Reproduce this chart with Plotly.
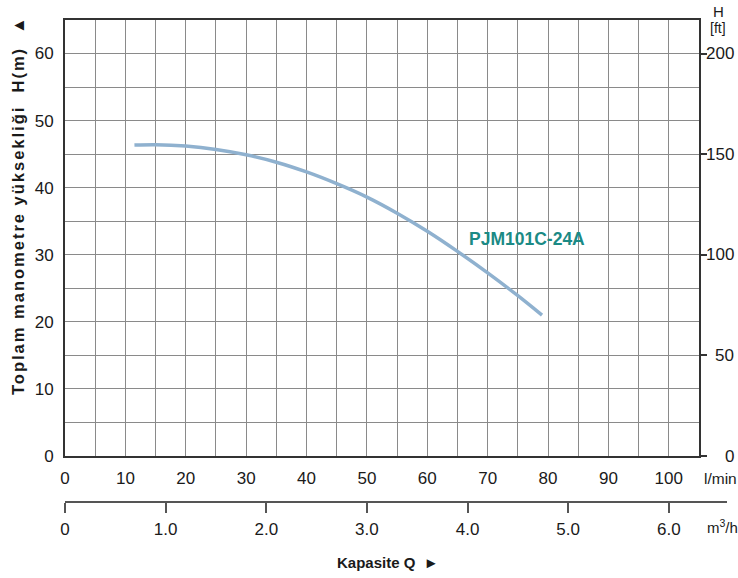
import plotly.graph_objects as go

# ---- data ----
flow_lpm = [11.5, 15, 20, 25, 30, 35, 40, 45, 50, 55, 60, 65, 70, 75, 79]
head_m = [46.35, 46.4, 46.2, 45.7, 44.9, 43.8, 42.35, 40.6, 38.6, 36.2, 33.5, 30.5, 27.3, 23.9, 21.0]
series_name = "PJM101C-24A"

x_ticks_lpm = [0, 10, 20, 30, 40, 50, 60, 70, 80, 90, 100]
y_ticks_m = [0, 10, 20, 30, 40, 50, 60]
ft_ticks = [0, 50, 100, 150, 200]
m3h_ticks = [0, 1, 2, 3, 4, 5, 6]
m3h_labels = ["0", "1.0", "2.0", "3.0", "4.0", "5.0", "6.0"]

X_MAX = 105
Y_MAX = 65
FT_PER_M = 200 / 60          # the chart's ft scale puts 200 ft on the 60 m line
LPM_PER_M3H = 1000 / 60

W, H = 738, 578
PLOT_L, PLOT_R, PLOT_T, PLOT_B = 65, 699, 20, 456   # window pixels
PAPER_B = 502
L, R, T, B = PLOT_L, W - PLOT_R, PLOT_T, H - PAPER_B
plot_w = PLOT_R - PLOT_L
paper_h = PAPER_B - PLOT_T


def px_x(px):
    return (px - PLOT_L) / plot_w


def px_y(py):
    return (PAPER_B - py) / paper_h


NARROW = "Liberation Sans Narrow, Arial Narrow, Liberation Sans, Arial, sans-serif"
BOLD = "Liberation Sans, Arial, sans-serif"
GRID = "#8a8a8a"
FRAME = "#333333"
TXT = "#1a1a1a"
TICK_SIZE = 17

fig = go.Figure()
fig.add_trace(go.Scatter(
    x=flow_lpm, y=head_m, mode="lines",
    line=dict(color="#8fb1cf", width=3.5, shape="spline", smoothing=0.8),
    hoverinfo="skip", showlegend=False,
))
fig.add_trace(go.Scatter(x=[0], y=[0], yaxis="y2", mode="markers",
                         marker=dict(opacity=0), showlegend=False, hoverinfo="skip"))
fig.add_trace(go.Scatter(x=[0], y=[0], xaxis="x2", mode="markers",
                         marker=dict(opacity=0), showlegend=False, hoverinfo="skip"))

y_dom0 = px_y(PLOT_B)

fig.update_layout(
    template="none",
    width=W, height=H,
    margin=dict(l=L, r=R, t=T, b=B, pad=0, autoexpand=False),
    paper_bgcolor="white", plot_bgcolor="white",
    showlegend=False,
    xaxis=dict(
        range=[0, X_MAX], tickvals=x_ticks_lpm, ticks="", automargin=False,
        showgrid=True, gridcolor=GRID, gridwidth=1.3,
        minor=dict(dtick=5, tick0=0, showgrid=True, gridcolor=GRID, gridwidth=1.3),
        showline=True, linecolor=FRAME, linewidth=2, mirror=True,
        zeroline=False, tickfont=dict(family=NARROW, size=TICK_SIZE, color=TXT),
        ticklabelstandoff=6, anchor="y",
    ),
    yaxis=dict(
        domain=[y_dom0, 1], range=[0, Y_MAX], tickvals=y_ticks_m, ticks="", automargin=False,
        showgrid=True, gridcolor=GRID, gridwidth=1.3,
        minor=dict(dtick=5, tick0=0, showgrid=True, gridcolor=GRID, gridwidth=1.3),
        showline=True, linecolor=FRAME, linewidth=2, mirror=True,
        zeroline=False, tickfont=dict(family=NARROW, size=TICK_SIZE, color=TXT),
        ticklabelstandoff=6, anchor="x",
    ),
    yaxis2=dict(
        domain=[y_dom0, 1], range=[0, Y_MAX * FT_PER_M], overlaying="y", side="right",
        tickvals=ft_ticks, ticks="outside", ticklen=7, tickwidth=1.5, tickcolor=FRAME,
        showticklabels=False, showgrid=False, zeroline=False, showline=False,
        anchor="x", automargin=False,
    ),
    xaxis2=dict(
        range=[0, X_MAX / LPM_PER_M3H], overlaying="x", anchor="free", position=0,
        side="bottom", tickvals=m3h_ticks, ticktext=m3h_labels, automargin=False,
        ticks="outside", ticklen=10, tickwidth=2, tickcolor="#555555",
        showline=False, showgrid=False, zeroline=False,
        tickfont=dict(family=NARROW, size=TICK_SIZE, color=TXT), ticklabelstandoff=2,
    ),
)

fig.add_shape(type="line", xref="paper", yref="paper",
              x0=0, x1=px_x(727), y0=0, y1=0,
              line=dict(color="#555555", width=2))

ann = []
for v in ft_ticks:
    ann.append(dict(x=px_x(736), xref="paper", y=v, yref="y2", text=str(v),
                    showarrow=False, xanchor="right", yanchor="middle",
                    font=dict(family=NARROW, size=TICK_SIZE, color=TXT)))


def paper_text(x, y, text, size, family=NARROW, xanchor="center", angle=0):
    return dict(x=px_x(x), y=px_y(y), xref="paper", yref="paper", text=text,
                showarrow=False, xanchor=xanchor, yanchor="middle", textangle=angle,
                font=dict(family=family, size=size, color=TXT))


ann += [
    paper_text(718, 11, "H", 15),
    paper_text(718, 28, "[ft]", 14),
    paper_text(702, 478, "l/min", 15.5, xanchor="left"),
    paper_text(705, 526, "m<sup>3</sup>/h", 15, xanchor="left"),
    paper_text(335, 562, "<b>Kapasite Q</b>  ►", 15, family=BOLD, xanchor="left"),
    paper_text(18, 205,
               "<b><span style='letter-spacing:2px'>Toplam manometre yüksekliği  H(m)  ▲</span></b>",
               16.5, family=BOLD, angle=-90),
    dict(x=76.5, y=32.3, xref="x", yref="y", text="<b>" + series_name + "</b>",
         showarrow=False, xanchor="center", yanchor="middle",
         font=dict(family=BOLD, size=17.5, color="#1b8a85")),
]
fig.update_layout(annotations=ann)

# the page's default 8px body margin would push the chart off the window
fig.write_html(
    "out.html",
    config={"displayModeBar": False},
    post_script="document.body.style.margin='0';document.body.style.overflow='hidden';",
)
